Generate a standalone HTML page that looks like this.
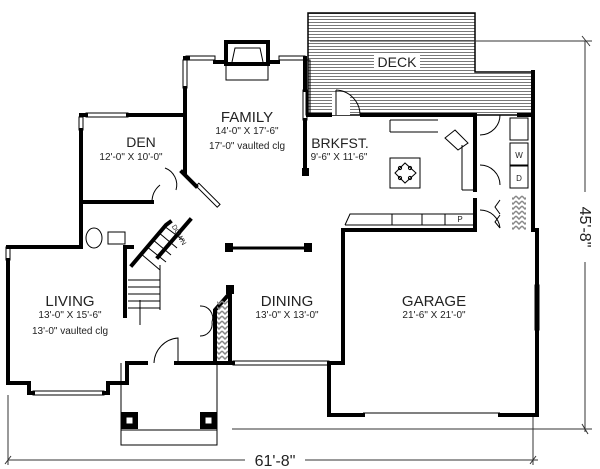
<!DOCTYPE html>
<html><head><meta charset="utf-8"><style>
html,body{margin:0;padding:0;background:#fff}
svg{display:block}
text{font-family:"Liberation Sans",sans-serif;fill:#222}
</style></head><body>
<svg width="600" height="469" viewBox="0 0 600 469" xmlns="http://www.w3.org/2000/svg">
<defs>
<pattern id="deck" width="4" height="3" patternUnits="userSpaceOnUse"><line x1="0" y1="1.5" x2="4" y2="1.5" stroke="#555" stroke-width="0.8"/></pattern>
<pattern id="hatch" width="6" height="5" patternUnits="userSpaceOnUse"><path d="M0 1 L3 4 L6 1" stroke="#888" stroke-width="1.5" fill="none"/></pattern>
</defs>
<!-- deck -->
<path d="M308 13 H475 V72 H533 V115 H308 Z" fill="url(#deck)" stroke="#000" stroke-width="1.5"/>
<rect x="332" y="92" width="18" height="23" fill="#fff"/>
<path d="M336 90 A25 25 0 0 1 360 115" fill="none" stroke="#000"/>
<line x1="336" y1="90" x2="336" y2="115" stroke="#000"/>
<rect x="374" y="54" width="46" height="16" fill="#fff"/>
<text x="397" y="67" font-size="14" text-anchor="middle">DECK</text>
<!-- dimension lines -->
<g stroke="#333" stroke-width="1" fill="none">
<line x1="310" y1="41" x2="592" y2="41"/>
<line x1="582" y1="36" x2="590" y2="46"/>
<line x1="585" y1="41" x2="585" y2="192"/>
<line x1="585" y1="262" x2="585" y2="432"/>
<line x1="232" y1="429" x2="592" y2="429"/>
<line x1="582" y1="424" x2="588" y2="434"/>
<line x1="8" y1="460" x2="245" y2="460"/>
<line x1="305" y1="460" x2="538" y2="460"/>
<line x1="8" y1="395" x2="8" y2="465"/>
<line x1="533" y1="415" x2="533" y2="465"/>
<line x1="5" y1="464" x2="11" y2="456"/>
<line x1="530" y1="464" x2="536" y2="456"/>
</g>
<text x="275" y="466" font-size="16" text-anchor="middle">61'-8"</text>
<text transform="translate(580,227) rotate(90)" font-size="16" text-anchor="middle">45'-8"</text>
<!-- walls thick -->
<g stroke="#000" stroke-width="4" fill="none" stroke-linecap="square">
<line x1="185" y1="88" x2="185" y2="172"/>
<line x1="185" y1="58" x2="188" y2="58"/>
<line x1="215" y1="62" x2="226" y2="62"/>
<line x1="268" y1="62" x2="278" y2="62"/>
<line x1="305" y1="120" x2="305" y2="168"/>
<line x1="305" y1="58" x2="305" y2="90"/>
<line x1="81" y1="115" x2="86" y2="115"/>
<line x1="128" y1="115" x2="185" y2="115"/>
<line x1="81" y1="130" x2="81" y2="247"/>
<line x1="81" y1="202" x2="152" y2="202"/>
<line x1="182" y1="172" x2="196" y2="186"/>
<line x1="308" y1="115" x2="330" y2="115"/>
<line x1="362" y1="115" x2="475" y2="115"/>
<line x1="475" y1="115" x2="475" y2="190"/>
<line x1="533" y1="72" x2="533" y2="230"/>
<line x1="537" y1="230" x2="537" y2="415"/>
<line x1="345" y1="230" x2="475" y2="230"/>
<line x1="343" y1="230" x2="343" y2="363"/>
<line x1="329" y1="363" x2="343" y2="363"/>
<line x1="329" y1="363" x2="329" y2="415"/>
<line x1="329" y1="415" x2="363" y2="415"/>
<line x1="500" y1="415" x2="537" y2="415"/>
<line x1="8" y1="247" x2="81" y2="247"/>
<line x1="8" y1="260" x2="8" y2="383"/>
<polyline points="8,383 29,383 29,393 33,393"/>
<polyline points="104,393 108,393 108,383 127,383 127,363 146,363"/>
<line x1="176" y1="363" x2="233" y2="363"/>
<line x1="125" y1="250" x2="125" y2="316"/>
<line x1="125" y1="247" x2="132" y2="247"/>
<polyline points="230,288 230,363"/>
<polyline points="230,293 215,310 215,363"/>
<polyline points="132,265 166,225 170,222"/>
<polyline points="158,257 190,220"/>
<line x1="475" y1="200" x2="475" y2="230"/>
<line x1="519" y1="115" x2="533" y2="115"/>
</g>
<g stroke="#000" stroke-width="1" fill="none">
<rect x="186" y="56" width="29" height="4"/>
<rect x="279" y="56" width="26" height="4"/>
<rect x="183" y="60" width="4" height="28"/>
<rect x="303" y="90" width="4" height="30"/>
<rect x="86" y="113" width="42" height="4"/>
<rect x="79" y="117" width="4" height="13"/>
<rect x="6" y="247" width="4" height="13"/>
<rect x="33" y="391" width="71" height="4"/>
<rect x="233" y="361" width="96" height="4"/>
<rect x="535" y="285" width="4" height="45"/>
<line x1="363" y1="413" x2="500" y2="413"/>
<rect x="306" y="60" width="4" height="55"/>
<rect x="226" y="42" width="42" height="22" stroke-width="4"/>
<path d="M232 62 L235 48 L260 48 L263 62" />
<rect x="226" y="64" width="42" height="16"/>
<path d="M152 202 A22 22 0 0 1 160 185 M176 190 A18 18 0 0 0 165 168"/>
<rect x="196" y="186" width="4" height="30" transform="rotate(-45 196 186)"/>
<line x1="228" y1="248" x2="308" y2="248" stroke-width="3"/>
<path d="M128 280 H160 M128 287 H160 M128 294 H160 M128 301 H160 M128 308 H160"/>
<line x1="160" y1="265" x2="160" y2="310"/>
<path d="M140 253 L160 270 M146 246 L166 262 M152 239 L171 255 M158 232 L177 248 M164 226 L183 240"/>
<line x1="140" y1="300" x2="140" y2="325"/>
<rect x="108" y="232" width="17" height="12"/>
<ellipse cx="94" cy="238" rx="8" ry="10"/>
<path d="M154 363 A26 26 0 0 1 178 338 V363"/>
<path d="M212 322 A12 12 0 0 0 200 306 M212 322 A12 12 0 0 1 200 336"/>
<polyline points="121,363 121,445 217,445 217,363"/>
<line x1="121" y1="430" x2="217" y2="430"/>
<path d="M390 120 H438 M390 132 H438 M390 132 V120 M455 130 L468 143 L458 150 L445 138 Z M462 145 V190 M462 190 H473"/>
<rect x="390" y="158" width="30" height="30"/>
<path d="M395 173 L405 163 L416 173 L405 183 Z"/>
<circle cx="400" cy="168" r="1.6"/><circle cx="410" cy="168" r="1.6"/><circle cx="400" cy="178" r="1.6"/><circle cx="410" cy="178" r="1.6"/>
<path d="M345 225 L350 214 H475 M345 225 H475 M392 214 V225 M422 214 V225 M445 214 V225"/>
<path d="M480 135 A20 20 0 0 0 500 115 M480 165 A20 20 0 0 1 500 185 M480 210 A20 20 0 0 1 500 228"/>
<rect x="510" y="118" width="18" height="22"/>
<rect x="510" y="143" width="18" height="22"/>
<rect x="510" y="166" width="18" height="22"/>
<path d="M500 200 L495 207 L500 214 M500 215 L495 222 L500 228"/>
</g>
<rect x="512" y="195" width="14" height="35" fill="url(#hatch)"/>
<rect x="217" y="300" width="11" height="60" fill="url(#hatch)"/>
<g fill="#000">
<rect x="302" y="168" width="7" height="8"/>
<rect x="225" y="243" width="8" height="9"/>
<rect x="304" y="243" width="8" height="9"/>
<rect x="226" y="285" width="8" height="9"/>
<rect x="121" y="412" width="17" height="17"/>
<rect x="200" y="412" width="17" height="17"/>
</g>
<rect x="126" y="417" width="7" height="7" fill="#fff" stroke="#000"/>
<rect x="205" y="417" width="7" height="7" fill="#fff" stroke="#000"/>
<g text-anchor="middle">
<text x="247" y="122" font-size="15">FAMILY</text>
<text x="247" y="134" font-size="10">14'-0" X 17'-6"</text>
<text x="247" y="149" font-size="10">17'-0" vaulted clg</text>
<text x="141" y="147" font-size="14">DEN</text>
<text x="131" y="160" font-size="10">12'-0" X 10'-0"</text>
<text x="340" y="148" font-size="14">BRKFST.</text>
<text x="339" y="160" font-size="10">9'-6" X 11'-6"</text>
<text x="70" y="306" font-size="15">LIVING</text>
<text x="70" y="318" font-size="10">13'-0" X 15'-6"</text>
<text x="70" y="334" font-size="10">13'-0" vaulted clg</text>
<text x="287" y="306" font-size="15">DINING</text>
<text x="287" y="318" font-size="10">13'-0" X 13'-0"</text>
<text x="434" y="306" font-size="15">GARAGE</text>
<text x="434" y="318" font-size="10">21'-6" X 21'-0"</text>
<text x="460" y="222" font-size="8">P</text>
<text x="519" y="181" font-size="8">D</text>
<text x="519" y="158" font-size="8">W</text>
<text transform="translate(177,236) rotate(60)" font-size="7">DOWN</text>
</g>
</svg>
</body></html>
